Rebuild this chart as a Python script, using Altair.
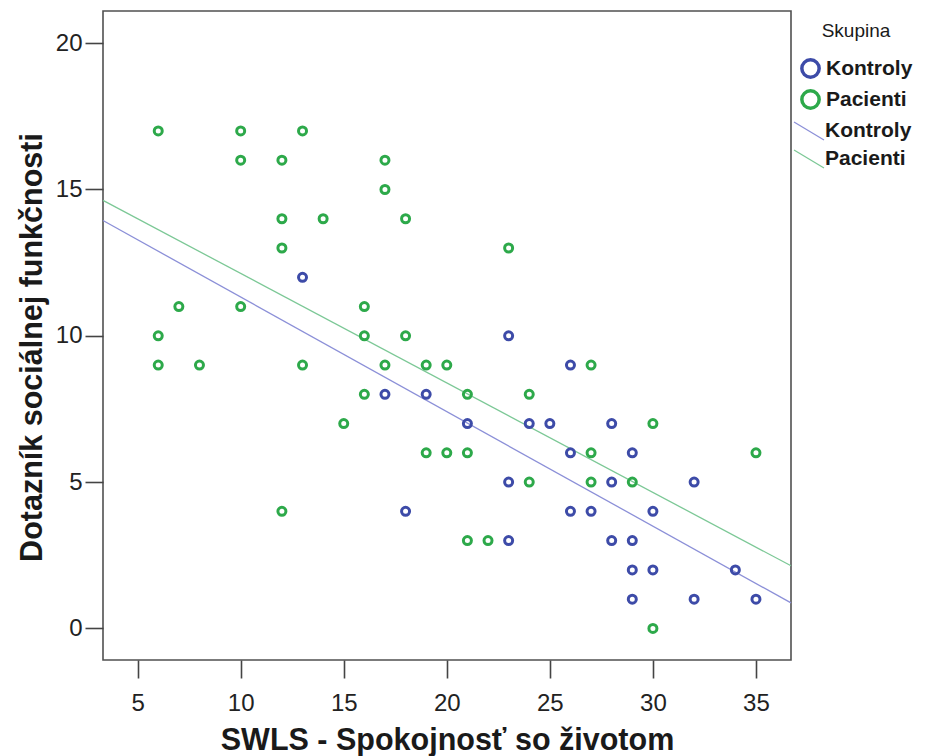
import altair as alt
import pandas as pd

# Kontroly (controls) scatter points
kontroly_x = [13, 23, 26, 17, 19, 21, 24, 25, 28, 26, 29, 23, 28, 32, 18, 26, 27, 30, 23, 28, 29, 29, 30, 34, 29, 32, 35]
kontroly_y = [12, 10, 9, 8, 8, 7, 7, 7, 7, 6, 6, 5, 5, 5, 4, 4, 4, 4, 3, 3, 3, 2, 2, 2, 1, 1, 1]

# Pacienti (patients) scatter points
pacienti_x = [6, 10, 13, 10, 12, 17, 17, 12, 14, 18, 12, 23, 7, 10, 16, 6, 16, 18, 6, 8, 13, 17, 19, 20, 27,
              16, 21, 24, 15, 30, 19, 20, 21, 27, 35, 24, 27, 29, 12, 21, 22, 30]
pacienti_y = [17, 17, 17, 16, 16, 16, 15, 14, 14, 14, 13, 13, 11, 11, 11, 10, 10, 10, 9, 9, 9, 9, 9, 9, 9,
              8, 8, 8, 7, 7, 6, 6, 6, 6, 6, 5, 5, 5, 4, 3, 3, 0]

# Fit lines (at the axis extents)
fit_x = [3.32, 36.7]
fit_kontroly = [13.94, 0.87]
fit_pacienti = [14.63, 2.14]

groups = ["Kontroly", "Pacienti"]
fit_groups = ["Kontroly fit", "Pacienti fit"]
point_colors = ["#3D4BA8", "#2DA94A"]
line_colors = ["#8C90D8", "#7CC896"]

x_ticks = [5, 10, 15, 20, 25, 30, 35]
y_ticks = [0, 5, 10, 15, 20]

pts = pd.DataFrame({
    "x": kontroly_x + pacienti_x,
    "y": kontroly_y + pacienti_y,
    "Skupina": [groups[0]] * len(kontroly_x) + [groups[1]] * len(pacienti_x),
})
fits = pd.DataFrame({
    "x": fit_x + fit_x,
    "y": fit_kontroly + fit_pacienti,
    "Fit": [fit_groups[0]] * 2 + [fit_groups[1]] * 2,
})

FONT = "Liberation Sans"

xscale = alt.Scale(domain=[3.32, 36.7], nice=False, zero=False)
yscale = alt.Scale(domain=[-1.08, 21.1], nice=False, zero=False)

xaxis = alt.Axis(values=x_ticks, title="SWLS - Spokojnosť so životom", tickSize=18, labelPadding=13,
                 titlePadding=10, grid=False, domain=False)
yaxis = alt.Axis(values=y_ticks, title="Dotazník sociálnej funkčnosti", tickSize=18, labelPadding=3,
                 titlePadding=8, titleY=336, grid=False, domain=False)

points = alt.Chart(pts).mark_point(filled=False, size=64, strokeWidth=3, opacity=1).encode(
    x=alt.X("x:Q", scale=xscale, axis=xaxis),
    y=alt.Y("y:Q", scale=yscale, axis=yaxis),
    color=alt.Color("Skupina:N", scale=alt.Scale(domain=groups, range=point_colors),
                    legend=alt.Legend(title="Skupina", orient="none", legendX=697, legendY=11,
                                      symbolType="circle", symbolSize=300, symbolStrokeWidth=3.5,
                                      titleAnchor="middle", titlePadding=17, rowPadding=-2,
                                      labelOffset=5)),
)

lines = alt.Chart(fits).mark_line(strokeWidth=1.3).encode(
    x="x:Q",
    y="y:Q",
    stroke=alt.Stroke("Fit:N", scale=alt.Scale(domain=fit_groups, range=line_colors),
                      legend=alt.Legend(title=None, orient="none", legendX=690, legendY=104,
                                        symbolType="M -1 -0.6 L 1 0.6", symbolSize=900,
                                        symbolStrokeWidth=1.3, rowPadding=0, labelOffset=0,
                                        labelExpr="replace(datum.label, ' fit', '')")),
)

chart = alt.layer(lines, points).properties(
    width=688, height=649,
    background="white",
    autosize=alt.AutoSizeParams(type="none"),
    padding={"left": 95, "top": 3, "right": 129, "bottom": 96},
).configure_view(
    stroke="#505050", strokeWidth=1.6
).configure_axis(
    labelFont=FONT, titleFont=FONT, labelFontSize=24, titleFontSize=30.5, titleFontWeight="bold",
    labelColor="#222222", titleColor="#1a1a1a", tickColor="#444444", tickWidth=1.6,
).configure_legend(
    labelFont=FONT, titleFont=FONT, labelFontSize=21, labelFontWeight="bold", titleFontSize=19,
    titleFontWeight="normal", labelColor="#1a1a1a", titleColor="#1a1a1a",
)

chart.save("out.html", embed_options={"renderer": "svg", "actions": False})
